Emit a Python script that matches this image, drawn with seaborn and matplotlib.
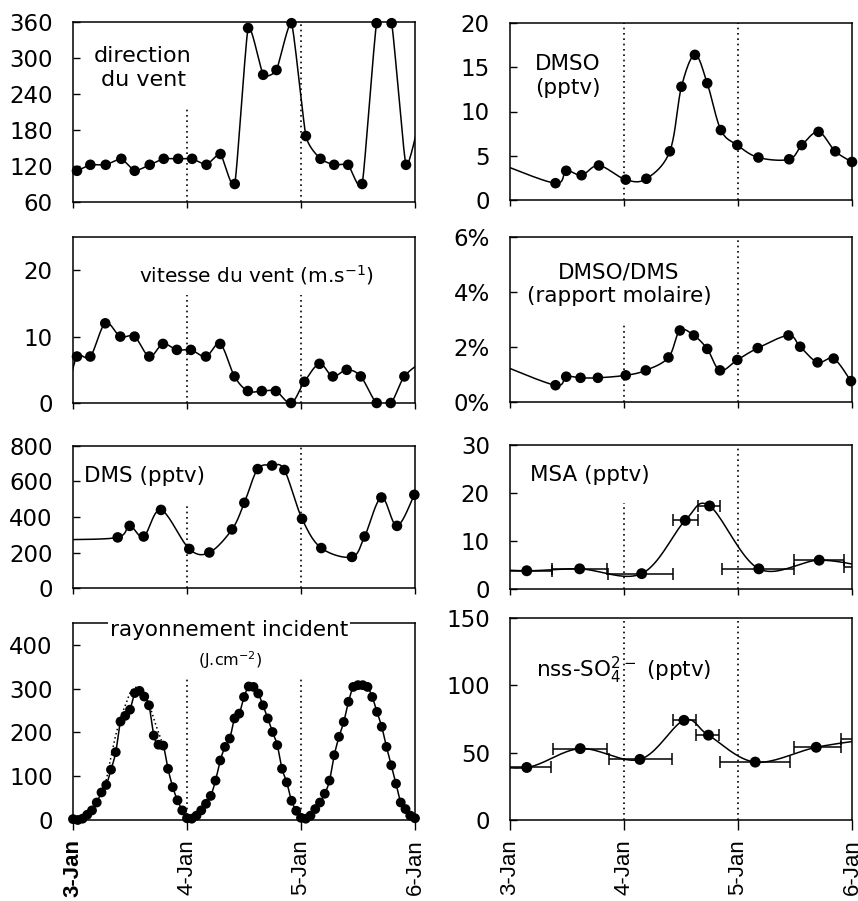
import numpy as np
import pandas as pd
import matplotlib
matplotlib.use("Agg")
import matplotlib.pyplot as plt
import seaborn as sns

# ------------------------------------------------------------------ data
date_labels = ["3-Jan", "4-Jan", "5-Jan", "6-Jan"]

# wind direction (days since 3-Jan 00h)
dir_t = [0.035, 0.152, 0.287, 0.424, 0.541, 0.673, 0.796, 0.922, 1.045, 1.171, 1.294, 1.419,
         1.536, 1.668, 1.785, 1.917, 2.043, 2.171, 2.291, 2.414, 2.537, 2.663, 2.795, 2.921, 3.06]
dir_v = [112, 122, 122, 132, 112, 122, 132, 132, 132, 122, 140, 90,
         350, 272, 280, 358, 170, 132, 122, 122, 90, 358, 358, 122, 215]

# wind speed (m/s)
ws_t = [-0.04, 0.035, 0.152, 0.283, 0.415, 0.540, 0.669, 0.789, 0.911, 1.034, 1.166, 1.291, 1.417,
        1.534, 1.656, 1.779, 1.913, 2.030, 2.162, 2.279, 2.401, 2.524, 2.664, 2.787, 2.907, 3.06]
ws_v = [2.0, 7.0, 7.0, 12.0, 10.0, 10.0, 7.0, 8.9, 8.0, 8.0, 7.0, 8.9, 4.0,
        1.8, 1.8, 1.8, 0.0, 3.2, 5.9, 4.0, 5.0, 4.0, 0.0, 0.0, 4.0, 6.2]

# DMS (pptv)
dms_t = [-0.05, 0.392, 0.497, 0.620, 0.772, 1.020, 1.196, 1.395, 1.503, 1.620, 1.746, 1.854,
         2.009, 2.178, 2.447, 2.558, 2.705, 2.842, 2.994]
dms_v = [272, 285, 350, 290, 440, 220, 200, 330, 480, 670, 690, 665,
         390, 225, 175, 290, 510, 350, 525]

# incident radiation (J/cm2), hourly from 3-Jan 00h
rad_hour = list(range(73))
rad_v = [2, 0, 3, 12, 22, 40, 63, 80, 115, 155, 225, 238, 252, 290, 295, 282, 262, 193, 172, 170, 117, 75, 45, 22,
         4, 3, 10, 22, 37, 55, 90, 136, 167, 186, 232, 243, 281, 305, 304, 289, 262, 232, 201, 171, 117, 86, 44, 21,
         5, 3, 10, 25, 40, 60, 90, 148, 190, 224, 270, 304, 308, 308, 304, 281, 247, 213, 167, 125, 83, 40, 25, 10, 4]
# dotted reference curve (first day)
radref_t = [0.25, 0.29, 0.33, 0.375, 0.42, 0.46, 0.50, 0.54, 0.58, 0.625, 0.67, 0.71, 0.75, 0.79]
radref_v = [63, 90, 140, 194, 235, 262, 290, 302, 300, 285, 262, 230, 200, 172]

# DMSO (pptv)
dmso_t = [-0.05, 0.399, 0.493, 0.628, 0.780, 1.015, 1.196, 1.402, 1.504, 1.622, 1.730, 1.850,
          1.994, 2.179, 2.449, 2.560, 2.707, 2.853, 3.0]
dmso_v = [3.9, 1.9, 3.3, 2.8, 3.9, 2.3, 2.4, 5.5, 12.8, 16.4, 13.2, 7.9,
          6.2, 4.8, 4.6, 6.2, 7.7, 5.5, 4.3]

# DMSO/DMS molar ratio (%)
ratio_t = [-0.05, 0.399, 0.493, 0.619, 0.771, 1.015, 1.191, 1.390, 1.490, 1.613, 1.730, 1.842,
           1.994, 2.173, 2.443, 2.545, 2.698, 2.839, 2.991]
ratio_v = [1.3, 0.61, 0.92, 0.88, 0.88, 0.97, 1.15, 1.62, 2.60, 2.42, 1.93, 1.15,
           1.53, 1.96, 2.42, 2.01, 1.44, 1.58, 0.76]

# MSA (pptv) with sampling intervals
msa_t = [-0.30, 0.147, 0.611, 1.155, 1.537, 1.751, 2.183, 2.712, 3.15]
msa_v = [4.3, 3.8, 4.2, 3.2, 14.3, 17.3, 4.2, 6.0, 4.5]
msa_lo = [0.15, 0.22, 0.244, 0.294, 0.103, 0.105, 0.323, 0.220, 0.217]
msa_hi = [0.15, 0.22, 0.244, 0.273, 0.109, 0.094, 0.309, 0.221, 0.217]

# nss-SO4 2- (pptv) with sampling intervals
nss_t = [-0.30, 0.147, 0.616, 1.139, 1.526, 1.741, 2.151, 2.686, 3.15]
nss_v = [42, 39, 53, 45, 74, 63, 43, 54, 60]
nss_lo = [0.15, 0.214, 0.240, 0.273, 0.094, 0.106, 0.308, 0.197, 0.245]
nss_hi = [0.15, 0.214, 0.235, 0.285, 0.109, 0.094, 0.309, 0.214, 0.245]

# ------------------------------------------------------------------ style
sns.set_theme(style="ticks")
plt.rcParams["font.family"] = ["DejaVu Sans"]
plt.rcParams["mathtext.default"] = "regular"
for k in ["text.color", "axes.labelcolor", "xtick.color", "ytick.color", "axes.edgecolor"]:
    plt.rcParams[k] = "black"

FS = 16.5      # tick labels
FT = 15.5      # panel titles
W, H = 858, 901
fig = plt.figure(figsize=(W / 100, H / 100), dpi=100)
fig.patch.set_facecolor("white")


def rect(x0, x1, top, bottom):
    return [x0 / W, 1 - bottom / H, (x1 - x0) / W, (bottom - top) / H]


def smooth(x, y, n=20, k=1 / 6.0):
    P = np.column_stack([np.asarray(x, float), np.asarray(y, float)])
    P = np.vstack([P[0], P, P[-1]])
    segs = []
    t = np.linspace(0, 1, n, endpoint=False)[:, None]
    for i in range(1, len(P) - 2):
        p0, p1, p2, p3 = P[i - 1], P[i], P[i + 1], P[i + 2]
        c1 = p1 + (p2 - p0) * k
        c2 = p2 - (p3 - p1) * k
        segs.append((1 - t) ** 3 * p1 + 3 * (1 - t) ** 2 * t * c1 + 3 * (1 - t) * t ** 2 * c2 + t ** 3 * p2)
    segs.append(P[-2][None, :])
    return np.vstack(segs)


def setup(ax, ylim, yticks, ylabels=None, bottom=False, vl=(1.0, 1.0), bold_first=False):
    ax.set_xlim(0, 3)
    ax.set_ylim(*ylim)
    ax.set_yticks(yticks)
    if ylabels is not None:
        ax.set_yticklabels(ylabels)
    ax.set_xticks([0, 1, 2, 3])
    for s in ax.spines.values():
        s.set_visible(True)
        s.set_linewidth(1.1)
        s.set_color("black")
    ax.tick_params(axis="y", direction="in", length=5, width=1.0, pad=14.5,
                   labelsize=FS, colors="black")
    if bottom:
        ax.tick_params(axis="x", direction="out", length=7, width=1.0, pad=7,
                       colors="black")
        ax.set_xticklabels(date_labels, rotation=90, va="top", ha="center", fontsize=16,
                           family=["Liberation Sans", "DejaVu Sans"])
        if bold_first:
            ax.get_xticklabels()[0].set_fontweight("bold")
    else:
        ax.tick_params(axis="x", direction="out", length=4, width=1.0, labelbottom=False)
    ax.set_xlabel("")
    ax.set_ylabel("")
    ax.set_facecolor("white")
    ax.grid(False)
    ax.axvline(1, ymin=0, ymax=vl[0], color="black", lw=1.2, ls=(0, (1, 2.2)), zorder=1)
    ax.axvline(2, ymin=0, ymax=vl[1], color="black", lw=1.2, ls=(0, (1, 2.2)), zorder=1)


def series(ax, t, v, ms=58, k=1 / 6.0):
    s = smooth(t, v, k=k)
    sns.lineplot(x=s[:, 0], y=s[:, 1], ax=ax, color="black", lw=1.1, sort=False,
                 estimator=None, zorder=2)
    t = np.asarray(t, float)
    v = np.asarray(v, float)
    m = (t >= -0.01) & (t <= 3.01)
    sns.scatterplot(x=t[m], y=v[m], ax=ax, color="black", s=ms, edgecolor="none",
                    linewidth=0, zorder=3, clip_on=False, legend=False)


def errseries(ax, t, v, lo, hi, ms=62):
    series(ax, t, v, ms)
    ax.errorbar(t, v, xerr=[lo, hi], fmt="none", ecolor="black", elinewidth=1.1,
                capsize=4.5, capthick=1.1, zorder=2)


LX0, LX1 = 73, 415
RX0, RX1 = 510, 852

# ---------- row 1
ax = fig.add_axes(rect(LX0, LX1, 22, 202))
series(ax, dir_t, dir_v, k=1 / 12.0)
setup(ax, (60, 360), [60, 120, 180, 240, 300, 360], vl=(0.53, 1.0))
ax.text(0.205, 0.745, "direction\ndu vent", transform=ax.transAxes, ha="center", va="center",
        fontsize=16, linespacing=1.25, multialignment="center")

ax = fig.add_axes(rect(RX0, RX1, 23, 200))
series(ax, dmso_t, dmso_v)
setup(ax, (0, 20), [0, 5, 10, 15, 20])
ax.text(0.17, 0.70, "DMSO\n(pptv)", transform=ax.transAxes, ha="center", va="center",
        fontsize=FT, linespacing=1.25, multialignment="center")

# ---------- row 2
ax = fig.add_axes(rect(LX0, LX1, 237, 403))
series(ax, ws_t, ws_v)
setup(ax, (0, 25), [0, 10, 20], vl=(0.65, 0.65))
ax.text(0.535, 0.77, r"vitesse du vent (m.s$^{\mathregular{-1}}$)", transform=ax.transAxes,
        ha="center", va="center", fontsize=14.5)

ax = fig.add_axes(rect(RX0, RX1, 237, 402))
series(ax, ratio_t, ratio_v)
setup(ax, (0, 6), [0, 2, 4, 6], ylabels=["0%", "2%", "4%", "6%"], vl=(0.485, 1.0))
ax.text(0.319, 0.715, "DMSO/DMS\n(rapport molaire)", transform=ax.transAxes, ha="center",
        va="center", fontsize=FT, linespacing=1.25, multialignment="center")

# ---------- row 3
ax = fig.add_axes(rect(LX0, LX1, 446, 588))
series(ax, dms_t, dms_v)
setup(ax, (0, 800), [0, 200, 400, 600, 800], vl=(0.60, 1.0))
ax.text(0.21, 0.79, "DMS (pptv)", transform=ax.transAxes, ha="center", va="center", fontsize=FT)

ax = fig.add_axes(rect(RX0, RX1, 445, 589))
errseries(ax, msa_t, msa_v, msa_lo, msa_hi)
setup(ax, (0, 30), [0, 10, 20, 30], vl=(0.60, 1.0))
ax.text(0.234, 0.79, "MSA (pptv)", transform=ax.transAxes, ha="center", va="center", fontsize=FT)

# ---------- row 4
ax = fig.add_axes(rect(LX0, LX1, 623, 820))
rad_t = np.asarray(rad_hour, float) / 24.0
sref = smooth(radref_t, radref_v)
sns.lineplot(x=sref[:, 0], y=sref[:, 1], ax=ax, color="black", lw=1.1, ls=(0, (1, 1.8)),
             sort=False, estimator=None, zorder=2)
series(ax, rad_t, rad_v, ms=50)
setup(ax, (0, 450), [0, 100, 200, 300, 400], bottom=True, vl=(0.72, 0.72), bold_first=True)
ax.text(0.456, 0.965, "rayonnement incident", transform=ax.transAxes, ha="center", va="center",
        fontsize=FT, zorder=6, clip_on=False,
        bbox=dict(facecolor="white", edgecolor="none", pad=1.5))
ax.text(0.46, 0.81, r"(J.cm$^{\mathregular{-2}}$)", transform=ax.transAxes, ha="center",
        va="center", fontsize=11.5, zorder=6)

ax = fig.add_axes(rect(RX0, RX1, 618, 820))
errseries(ax, nss_t, nss_v, nss_lo, nss_hi)
setup(ax, (0, 150), [0, 50, 100, 150], bottom=True)
ax.text(0.333, 0.743, r"nss-SO$_4^{\mathregular{2-}}$ (pptv)", transform=ax.transAxes,
        ha="center", va="center", fontsize=FT)

fig.savefig("out.png", dpi=100, facecolor="white")
